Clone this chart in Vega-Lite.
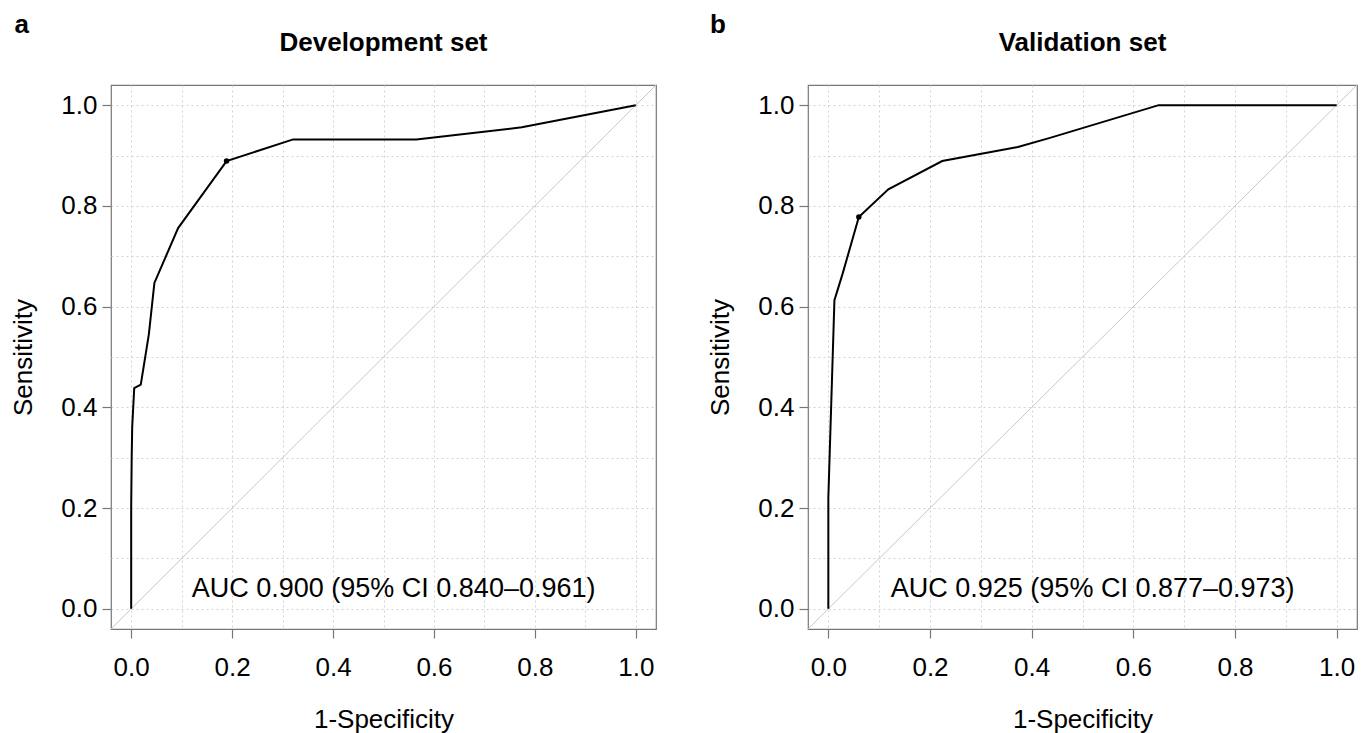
{
  "$schema": "https://vega.github.io/schema/vega-lite/v6.json",
  "background": "white",
  "padding": {"left": 10, "top": 11, "right": 5, "bottom": 2},
  "spacing": 152,
  "bounds": "flush",
  "config": {
    "font": "Liberation Sans",
    "view": {"stroke": "#777777", "strokeWidth": 1.2},
    "axis": {
      "domain": false,
      "labelFont": "Liberation Sans",
      "titleFont": "Liberation Sans",
      "labelFontSize": 26,
      "titleFontSize": 26,
      "titleFontWeight": "normal",
      "labelColor": "#000000",
      "titleColor": "#000000",
      "tickColor": "#777777",
      "tickSize": 9,
      "tickWidth": 1.2,
      "gridColor": "#d3d3d3",
      "gridDash": [2, 3],
      "gridWidth": 1
    },
    "axisX": {"labelPadding": 16, "titlePadding": 26},
    "axisY": {"labelPadding": 5, "titlePadding": 24}
  },
  "datasets": {
    "roc": [
      {"set": "Development", "i": 0, "fpr": 0.0, "tpr": 0.0},
      {"set": "Development", "i": 1, "fpr": 0.0, "tpr": 0.2},
      {"set": "Development", "i": 2, "fpr": 0.001, "tpr": 0.3},
      {"set": "Development", "i": 3, "fpr": 0.002, "tpr": 0.36},
      {"set": "Development", "i": 4, "fpr": 0.006, "tpr": 0.438},
      {"set": "Development", "i": 5, "fpr": 0.019, "tpr": 0.445},
      {"set": "Development", "i": 6, "fpr": 0.035, "tpr": 0.545},
      {"set": "Development", "i": 7, "fpr": 0.046, "tpr": 0.647},
      {"set": "Development", "i": 8, "fpr": 0.093, "tpr": 0.756},
      {"set": "Development", "i": 9, "fpr": 0.189, "tpr": 0.889},
      {"set": "Development", "i": 10, "fpr": 0.321, "tpr": 0.932},
      {"set": "Development", "i": 11, "fpr": 0.565, "tpr": 0.932},
      {"set": "Development", "i": 12, "fpr": 0.774, "tpr": 0.956},
      {"set": "Development", "i": 13, "fpr": 1.0, "tpr": 1.0},
      {"set": "Validation", "i": 0, "fpr": 0.0, "tpr": 0.0},
      {"set": "Validation", "i": 1, "fpr": 0.0, "tpr": 0.22},
      {"set": "Validation", "i": 2, "fpr": 0.012, "tpr": 0.613},
      {"set": "Validation", "i": 3, "fpr": 0.028, "tpr": 0.665},
      {"set": "Validation", "i": 4, "fpr": 0.06, "tpr": 0.778},
      {"set": "Validation", "i": 5, "fpr": 0.118, "tpr": 0.833},
      {"set": "Validation", "i": 6, "fpr": 0.224, "tpr": 0.889},
      {"set": "Validation", "i": 7, "fpr": 0.373, "tpr": 0.917},
      {"set": "Validation", "i": 8, "fpr": 0.436, "tpr": 0.935},
      {"set": "Validation", "i": 9, "fpr": 0.65, "tpr": 1.0},
      {"set": "Validation", "i": 10, "fpr": 1.0, "tpr": 1.0}
    ],
    "cut": [
      {"set": "Development", "fpr": 0.189, "tpr": 0.889},
      {"set": "Validation", "fpr": 0.06, "tpr": 0.778}
    ],
    "diag": [
      {"fpr": -0.04, "tpr": -0.04},
      {"fpr": 1.04, "tpr": 1.04}
    ],
    "notes": [
      {"set": "Development", "panel": "a", "title": "Development set", "label": "AUC 0.900 (95% CI 0.840–0.961)"},
      {"set": "Validation", "panel": "b", "title": "Validation set", "label": "AUC 0.925 (95% CI 0.877–0.973)"}
    ]
  },
  "hconcat": [
    {
      "width": 545,
      "height": 544,
      "layer": [
        {
          "data": {"name": "diag"},
          "mark": {"type": "line", "color": "#c8c8c8", "strokeWidth": 1},
          "encoding": {
            "x": {"field": "fpr", "type": "quantitative", "scale": {"domain": [-0.04, 1.04], "nice": false, "zero": false},
              "title": "1-Specificity",
              "axis": {"values": [0, 0.1, 0.2, 0.3, 0.4, 0.5, 0.6, 0.7, 0.8, 0.9, 1.0], "grid": true,
                "labelExpr": "abs(datum.value*5 - round(datum.value*5)) < 0.001 ? format(datum.value, '.1f') : ''",
                "tickOpacity": {"condition": {"test": "abs(datum.value*5 - round(datum.value*5)) < 0.001", "value": 1}, "value": 0}}},
            "y": {"field": "tpr", "type": "quantitative", "scale": {"domain": [-0.04, 1.04], "nice": false, "zero": false},
              "title": "Sensitivity",
              "axis": {"values": [0, 0.1, 0.2, 0.3, 0.4, 0.5, 0.6, 0.7, 0.8, 0.9, 1.0], "grid": true,
                "labelExpr": "abs(datum.value*5 - round(datum.value*5)) < 0.001 ? format(datum.value, '.1f') : ''",
                "tickOpacity": {"condition": {"test": "abs(datum.value*5 - round(datum.value*5)) < 0.001", "value": 1}, "value": 0}}}
          }
        },
        {
          "data": {"name": "roc"},
          "transform": [{"filter": "datum.set === 'Development'"}],
          "mark": {"type": "line", "color": "#000000", "strokeWidth": 2},
          "encoding": {
            "x": {"field": "fpr", "type": "quantitative"},
            "y": {"field": "tpr", "type": "quantitative"},
            "order": {"field": "i", "type": "quantitative"}
          }
        },
        {
          "data": {"name": "cut"},
          "transform": [{"filter": "datum.set === 'Development'"}],
          "mark": {"type": "point", "filled": true, "color": "#000000", "size": 30, "opacity": 1},
          "encoding": {
            "x": {"field": "fpr", "type": "quantitative"},
            "y": {"field": "tpr", "type": "quantitative"}
          }
        },
        {
          "data": {"name": "notes"},
          "transform": [{"filter": "datum.set === 'Development'"}],
          "mark": {"type": "text", "fontSize": 27, "color": "#000000", "align": "center", "baseline": "middle"},
          "encoding": {
            "x": {"datum": 0.52},
            "y": {"datum": 0.04},
            "text": {"field": "label"}
          }
        },
        {
          "data": {"name": "notes"},
          "transform": [{"filter": "datum.set === 'Development'"}],
          "mark": {"type": "text", "fontSize": 26, "fontWeight": "bold", "color": "#000000", "align": "center", "baseline": "alphabetic"},
          "encoding": {
            "x": {"datum": 0.5},
            "y": {"datum": 1.1075},
            "text": {"field": "title"}
          }
        },
        {
          "data": {"name": "notes"},
          "transform": [{"filter": "datum.set === 'Development'"}],
          "mark": {"type": "text", "fontSize": 26, "fontWeight": "bold", "color": "#000000", "align": "center", "baseline": "alphabetic"},
          "encoding": {
            "x": {"datum": -0.217},
            "y": {"datum": 1.143},
            "text": {"field": "panel"}
          }
        }
      ]
    },
    {
      "width": 549,
      "height": 544,
      "layer": [
        {
          "data": {"name": "diag"},
          "mark": {"type": "line", "color": "#c8c8c8", "strokeWidth": 1},
          "encoding": {
            "x": {"field": "fpr", "type": "quantitative", "scale": {"domain": [-0.04, 1.04], "nice": false, "zero": false},
              "title": "1-Specificity",
              "axis": {"values": [0, 0.1, 0.2, 0.3, 0.4, 0.5, 0.6, 0.7, 0.8, 0.9, 1.0], "grid": true,
                "labelExpr": "abs(datum.value*5 - round(datum.value*5)) < 0.001 ? format(datum.value, '.1f') : ''",
                "tickOpacity": {"condition": {"test": "abs(datum.value*5 - round(datum.value*5)) < 0.001", "value": 1}, "value": 0}}},
            "y": {"field": "tpr", "type": "quantitative", "scale": {"domain": [-0.04, 1.04], "nice": false, "zero": false},
              "title": "Sensitivity",
              "axis": {"values": [0, 0.1, 0.2, 0.3, 0.4, 0.5, 0.6, 0.7, 0.8, 0.9, 1.0], "grid": true,
                "labelExpr": "abs(datum.value*5 - round(datum.value*5)) < 0.001 ? format(datum.value, '.1f') : ''",
                "tickOpacity": {"condition": {"test": "abs(datum.value*5 - round(datum.value*5)) < 0.001", "value": 1}, "value": 0}}}
          }
        },
        {
          "data": {"name": "roc"},
          "transform": [{"filter": "datum.set === 'Validation'"}],
          "mark": {"type": "line", "color": "#000000", "strokeWidth": 2},
          "encoding": {
            "x": {"field": "fpr", "type": "quantitative"},
            "y": {"field": "tpr", "type": "quantitative"},
            "order": {"field": "i", "type": "quantitative"}
          }
        },
        {
          "data": {"name": "cut"},
          "transform": [{"filter": "datum.set === 'Validation'"}],
          "mark": {"type": "point", "filled": true, "color": "#000000", "size": 30, "opacity": 1},
          "encoding": {
            "x": {"field": "fpr", "type": "quantitative"},
            "y": {"field": "tpr", "type": "quantitative"}
          }
        },
        {
          "data": {"name": "notes"},
          "transform": [{"filter": "datum.set === 'Validation'"}],
          "mark": {"type": "text", "fontSize": 27, "color": "#000000", "align": "center", "baseline": "middle"},
          "encoding": {
            "x": {"datum": 0.52},
            "y": {"datum": 0.04},
            "text": {"field": "label"}
          }
        },
        {
          "data": {"name": "notes"},
          "transform": [{"filter": "datum.set === 'Validation'"}],
          "mark": {"type": "text", "fontSize": 26, "fontWeight": "bold", "color": "#000000", "align": "center", "baseline": "alphabetic"},
          "encoding": {
            "x": {"datum": 0.5},
            "y": {"datum": 1.1075},
            "text": {"field": "title"}
          }
        },
        {
          "data": {"name": "notes"},
          "transform": [{"filter": "datum.set === 'Validation'"}],
          "mark": {"type": "text", "fontSize": 26, "fontWeight": "bold", "color": "#000000", "align": "center", "baseline": "alphabetic"},
          "encoding": {
            "x": {"datum": -0.217},
            "y": {"datum": 1.143},
            "text": {"field": "panel"}
          }
        }
      ]
    }
  ]
}
